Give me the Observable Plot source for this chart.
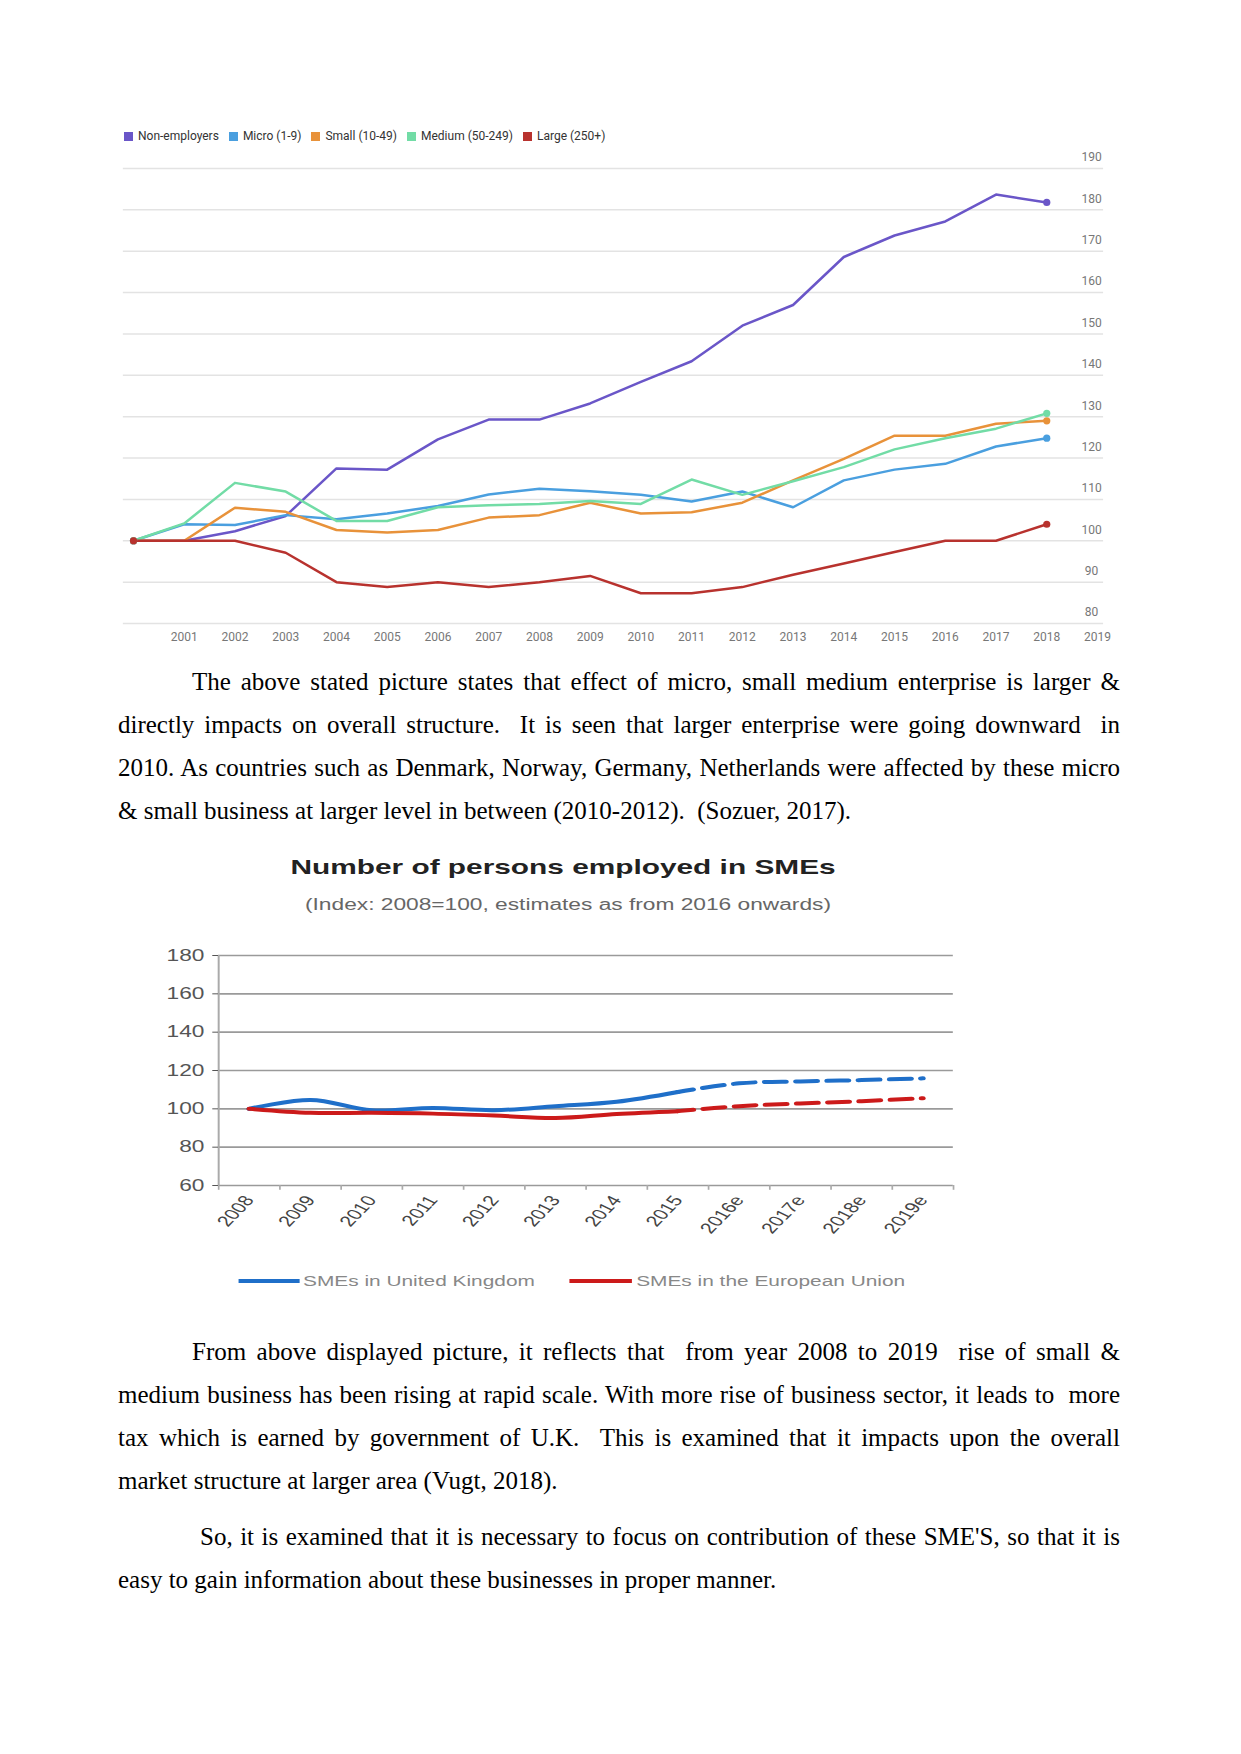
<!DOCTYPE html>
<html><head><meta charset="utf-8">
<script src="https://cdn.jsdelivr.net/npm/d3@7"></script>
<script src="https://cdn.jsdelivr.net/npm/@observablehq/plot@0.6"></script>
<style>
body{margin:0;background:#fff;}
#page{position:relative;width:1241px;height:1754px;overflow:hidden;background:#fff;}
#legend1{position:absolute;left:124px;top:128px;display:flex;align-items:center;font:12px Roboto,sans-serif;color:#333;line-height:16px;}
#legend1 .item{display:flex;align-items:center;margin-right:10px;}
#legend1 .sw{width:9px;height:9px;margin-right:5px;}
#chart1{position:absolute;left:0;top:150px;}
.para{position:absolute;left:118px;width:1002px;font-family:"Liberation Serif","Times New Roman",serif;font-size:25px;line-height:43px;color:#000;}
.para div{text-align:justify;text-align-last:justify;}
.para div.last{text-align-last:left;}
#c2{position:absolute;left:0;top:0;width:874px;height:1754px;transform:scaleX(1.42);transform-origin:0 0;font-family:"Liberation Sans",Arial,sans-serif;}
#c2 .title{position:absolute;left:0;width:793px;top:853px;text-align:center;font-weight:bold;font-size:21px;line-height:28px;color:#222;}
#c2 .sub{position:absolute;left:0;width:800px;top:895px;text-align:center;font-size:16px;line-height:20px;color:#666;}
#c2 .chart{position:absolute;left:0;top:935px;}
#c2 .sw{position:absolute;height:4px;top:1279px;}
#c2 .lt{position:absolute;top:1271px;font-size:14.7px;line-height:20px;color:#888;white-space:nowrap;}
</style>
</head><body>
<div id="page">
  <div id="legend1"></div>
  <div id="chart1"></div>
  <div class="para" style="top:660px">
    <div style="padding-left:74px">The above stated picture states that effect of micro, small medium enterprise is larger &amp;</div>
    <div>directly impacts on overall structure.&nbsp; It is seen that larger enterprise were going downward&nbsp; in</div>
    <div>2010. As countries such as Denmark, Norway, Germany, Netherlands were affected by these micro</div>
    <div class="last">&amp; small business at larger level in between (2010-2012).&nbsp; (Sozuer, 2017).</div>
  </div>
  <div id="c2">
    <div class="title">Number of persons employed in SMEs</div>
    <div class="sub">(Index: 2008=100, estimates as from 2016 onwards)</div>
    <div class="chart" id="chart2"></div>
    <div class="sw" style="left:167.6px;width:43.4px;background:#1f6fc9"></div>
    <div class="lt" style="left:213.4px" id="lg2a"></div>
    <div class="sw" style="left:401px;width:44px;background:#cc1a1a"></div>
    <div class="lt" style="left:448px" id="lg2b"></div>
  </div>
  <div class="para" style="top:1330px">
    <div style="padding-left:74px">From above displayed picture, it reflects that&nbsp; from year 2008 to 2019&nbsp; rise of small &amp;</div>
    <div>medium business has been rising at rapid scale. With more rise of business sector, it leads to&nbsp; more</div>
    <div>tax which is earned by government of U.K.&nbsp; This is examined that it impacts upon the overall</div>
    <div class="last">market structure at larger area (Vugt, 2018).</div>
  </div>
  <div class="para" style="top:1515px">
    <div style="padding-left:82px">So, it is examined that it is necessary to focus on contribution of these SME'S, so that it is</div>
    <div class="last">easy to gain information about these businesses in proper manner.</div>
  </div>
</div>
<script>
// ---------- Chart 1 data ----------
const years1 = [2000,2001,2002,2003,2004,2005,2006,2007,2008,2009,2010,2011,2012,2013,2014,2015,2016,2017,2018];
const nonEmployers = [100,100,102.3,106,117.5,117.2,124.5,129.3,129.3,133.2,138.4,143.4,152,157,168.6,173.8,177.2,183.7,181.8];
const micro  = [100,104,103.8,106.2,105.2,106.6,108.4,111.2,112.6,112,111.1,109.5,111.9,108.1,114.6,117.2,118.6,122.8,124.8];
const small  = [100,100,108,107,102.6,102,102.6,105.6,106.2,109.2,106.6,106.9,109.2,114.6,119.8,125.4,125.4,128.3,129];
const medium = [100,104.2,114,111.9,104.8,104.8,108.1,108.6,108.9,109.6,108.9,114.8,111.1,114.4,117.8,122.1,124.8,127.1,130.8];
const large  = [100,100,100,97.1,90,88.8,90,88.8,90,91.5,87.3,87.3,88.8,91.8,94.5,97.3,100,100,104];
const seriesNames1 = ["Non-employers","Micro (1-9)","Small (10-49)","Medium (50-249)","Large (250+)"];
const seriesValues1 = [nonEmployers, micro, small, medium, large];
const colors1 = ["#6a56c8","#4a9fdf","#e8923a","#72dca6","#b8322e"];
const xTicks1 = [2001,2002,2003,2004,2005,2006,2007,2008,2009,2010,2011,2012,2013,2014,2015,2016,2017,2018,2019];
const yTicks1 = [80,90,100,110,120,130,140,150,160,170,180,190];

// ---------- Chart 2 data ----------
const categories2 = ["2008","2009","2010","2011","2012","2013","2014","2015","2016e","2017e","2018e","2019e"];
const ukValues = [100,104.6,99.3,100.5,99.3,101.4,103.7,108.8,113.3,114.3,115,115.9];
const euValues = [100,97.9,97.9,97.5,96.5,95.2,97.3,98.8,101.4,102.8,104,105.5];
const seriesNames2 = ["SMEs in United Kingdom","SMEs in the European Union"];
const colors2 = ["#1f6fc9","#cc1a1a"];
const lastActualIndex = 7; // 2015; estimates afterwards
const yTicks2 = [60,80,100,120,140,160,180];

// ---------- Legend 1 ----------
const lg = document.getElementById("legend1");
seriesNames1.forEach((n, k) => {
  const it = document.createElement("div"); it.className = "item";
  const sw = document.createElement("div"); sw.className = "sw"; sw.style.background = colors1[k];
  const tx = document.createElement("span"); tx.textContent = n;
  it.appendChild(sw); it.appendChild(tx); lg.appendChild(it);
});

// ---------- Chart 1 ----------
const rows1 = seriesNames1.flatMap((name, k) => years1.map((yr, i) => ({series: name, year: yr, value: seriesValues1[k][i]})));
const ends1 = rows1.filter(d => d.year === years1[0] || d.year === years1[years1.length - 1]);
const ch1 = Plot.plot({
  width: 1241, height: 513,
  marginLeft: 133, marginRight: 144, marginTop: 18, marginBottom: 40,
  x: {domain: [2000, 2019], axis: null},
  y: {domain: [80, 190], axis: null},
  color: {domain: seriesNames1, range: colors1},
  style: {fontFamily: "Roboto, sans-serif", fontSize: "12px", background: "transparent", overflow: "visible"},
  marks: [
    Plot.ruleY(yTicks1, {x1: 1999.8, x2: 2019.12, stroke: "#e3e3e3", strokeWidth: 1.5}),
    Plot.axisX({ticks: xTicks1, tickFormat: d => String(d), tickSize: 0, tickPadding: 9, color: "#777", label: null, fontSize: 12}),
    Plot.text(yTicks1, {y: d => d, frameAnchor: "right", text: d => String(d), dx: -6, dy: -11, textAnchor: "middle", fill: "#777", fontSize: 12}),
    Plot.line(rows1, {x: "year", y: "value", stroke: "series", z: "series", strokeWidth: 2.5}),
    Plot.dot(ends1, {x: "year", y: "value", fill: "series", r: 3.6})
  ]
});
document.getElementById("chart1").appendChild(ch1);

// ---------- Chart 2 ----------
const rows2 = seriesNames2.flatMap((name, k) => categories2.map((c, i) => ({series: name, i, v: (k === 0 ? ukValues : euValues)[i]})));
const solid2 = rows2.filter(d => d.i <= lastActualIndex);
const dashed2 = rows2.filter(d => d.i >= lastActualIndex);
const idx2 = categories2.map((_, i) => i);
const bounds2 = d3.range(categories2.length + 1).map(i => i - 0.5);
const ch2 = Plot.plot({
  width: 720, height: 315,
  marginLeft: 153.5, marginRight: 49, marginTop: 20, marginBottom: 65,
  x: {domain: [-0.5, categories2.length - 0.5], axis: null},
  y: {domain: [60, 180], axis: null},
  color: {domain: seriesNames2, range: colors2},
  style: {fontFamily: "'Liberation Sans', Arial, sans-serif", fontSize: "16px", background: "transparent", overflow: "visible"},
  marks: [
    Plot.ruleY(yTicks2, {stroke: "#9a9a9a", strokeWidth: 1.6}),
    Plot.ruleX([-0.5], {y1: 60, y2: 180, stroke: "#aaa", strokeWidth: 1.4}),
    Plot.ruleX(bounds2, {y1: 60, y2: 57.5, stroke: "#aaa", strokeWidth: 1.2}),
    Plot.axisY({ticks: yTicks2, tickSize: 4, tickPadding: 6, color: "#555", fontSize: 16, label: null}),
    Plot.axisX({ticks: idx2, tickFormat: i => categories2[i], tickSize: 0, tickPadding: 12, tickRotate: -55, color: "#444", fontSize: 15, label: null}),
    Plot.line(solid2, {x: "i", y: "v", stroke: "series", z: "series", strokeWidth: 4, curve: "catmull-rom"}),
    Plot.line(dashed2, {x: "i", y: "v", stroke: "series", z: "series", strokeWidth: 4, curve: "catmull-rom", strokeDasharray: "15,7", strokeDashoffset: 4})
  ]
});
document.getElementById("chart2").appendChild(ch2);
document.getElementById("lg2a").textContent = seriesNames2[0];
document.getElementById("lg2b").textContent = seriesNames2[1];
</script>
</body></html>
